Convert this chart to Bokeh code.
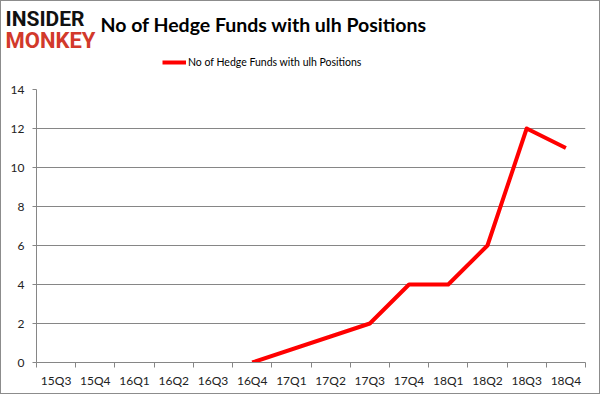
from bokeh.plotting import figure
from bokeh.models import Legend, LegendItem, FixedTicker, Range1d
from bokeh.layouts import column
from bokeh.core.properties import value
from bokeh.embed import file_html
from bokeh.resources import INLINE

quarters = ["15Q3", "15Q4", "16Q1", "16Q2", "16Q3", "16Q4", "17Q1",
            "17Q2", "17Q3", "17Q4", "18Q1", "18Q2", "18Q3", "18Q4"]
funds = [None, None, None, None, None, 0, None, None, 2, 4, 4, 6, 12, 11]
y_ticks = [0, 2, 4, 6, 8, 10, 12, 14]
title_text = "No of Hedge Funds with ulh Positions"
series_name = "No of Hedge Funds with ulh Positions"
logo_top = "INSIDER"
logo_bottom = "MONKEY"

W = 598
HEAD_H = 80
MAIN_H = 312
LB, RB, TB, BB = 35, 14, 8, 31
font = "Lato"
grid_col = "#868686"
red = "#ff0000"

# ---------- header (title, logo, legend); data units = pixels ----------
head = figure(width=W, height=HEAD_H, output_backend="svg", toolbar_location=None,
              x_range=Range1d(0, W), y_range=Range1d(HEAD_H, 0),
              x_axis_type=None, y_axis_type=None,
              min_border=0, min_border_left=0, min_border_right=0,
              min_border_top=0, min_border_bottom=0)
head.title = None
head.frame_align = False
head.grid.visible = False
head.outline_line_color = None
head.background_fill_color = "white"
head.border_fill_color = "white"

head.text(x=[99], y=[22.5], text=[title_text], text_font=value(font),
          text_font_size="19.5px", text_font_style="bold", text_color="black",
          text_baseline="alphabetic", text_align="left")
head.text(x=[4, 4], y=[17.5, 38.5], text=[logo_top, logo_bottom],
          text_font=value("Roboto"), text_font_size=["21px", "22px"],
          text_font_style="bold", text_color=["#111111", "#d2392b"],
          text_baseline="alphabetic", text_align="left")

# legend swatch renderer kept outside the visible range
swatch = head.line(x=[-200, -190], y=[-20, -20], line_color=red, line_width=4)
legend = Legend(items=[LegendItem(label=series_name, renderers=[swatch])],
                location=(161, HEAD_H - 67), orientation="horizontal",
                padding=0, margin=0, spacing=0, border_line_color=None,
                background_fill_alpha=0, glyph_width=24, glyph_height=12,
                label_height=12, label_standoff=2, label_text_font=font,
                label_text_font_size="10.5px", label_text_color="black")
head.add_layout(legend, "center")

# ---------- main chart ----------
p = figure(width=W, height=MAIN_H, output_backend="svg", toolbar_location=None,
           x_range=Range1d(0, len(quarters)), y_range=Range1d(0, 14),
           min_border_left=LB, min_border_right=RB, min_border_top=TB,
           min_border_bottom=BB)
p.title = None
p.frame_align = False
p.outline_line_color = None
p.background_fill_color = "white"
p.border_fill_color = "white"

xs = [i + 0.5 for i, v in enumerate(funds) if v is not None]
ys = [v for v in funds if v is not None]
p.line(xs, ys, line_color=red, line_width=4, line_join="round")

# x axis: labels at category centres, ticks at category boundaries
p.xaxis.ticker = FixedTicker(ticks=[i + 0.5 for i in range(len(quarters))],
                             minor_ticks=list(range(len(quarters) + 1)))
p.xaxis.major_label_overrides = {i + 0.5: q for i, q in enumerate(quarters)}
p.xaxis.major_tick_out = 0
p.xaxis.major_tick_in = 0
p.xaxis.minor_tick_out = 5
p.xaxis.minor_tick_in = 0
p.xaxis.minor_tick_line_color = grid_col
p.xaxis.axis_line_color = grid_col
p.xaxis.major_label_standoff = 5
p.xaxis.major_label_text_font = font
p.xaxis.major_label_text_font_size = "12px"
p.xaxis.major_label_text_color = "#222222"
p.xgrid.grid_line_color = None

# y axis
p.yaxis.ticker = FixedTicker(ticks=y_ticks)
p.yaxis.major_tick_out = 4
p.yaxis.major_tick_in = 0
p.yaxis.minor_tick_line_color = None
p.yaxis.major_tick_line_color = grid_col
p.yaxis.axis_line_color = grid_col
p.yaxis.major_label_standoff = 8
p.yaxis.major_label_text_font = font
p.yaxis.major_label_text_font_size = "12px"
p.yaxis.major_label_text_color = "#222222"
p.ygrid.grid_line_color = grid_col
p.ygrid.grid_line_width = 1

layout = column(head, p, spacing=0, styles={"border": "1px solid #8c8c8c"})
open("out.html", "w").write(file_html(layout, INLINE))
